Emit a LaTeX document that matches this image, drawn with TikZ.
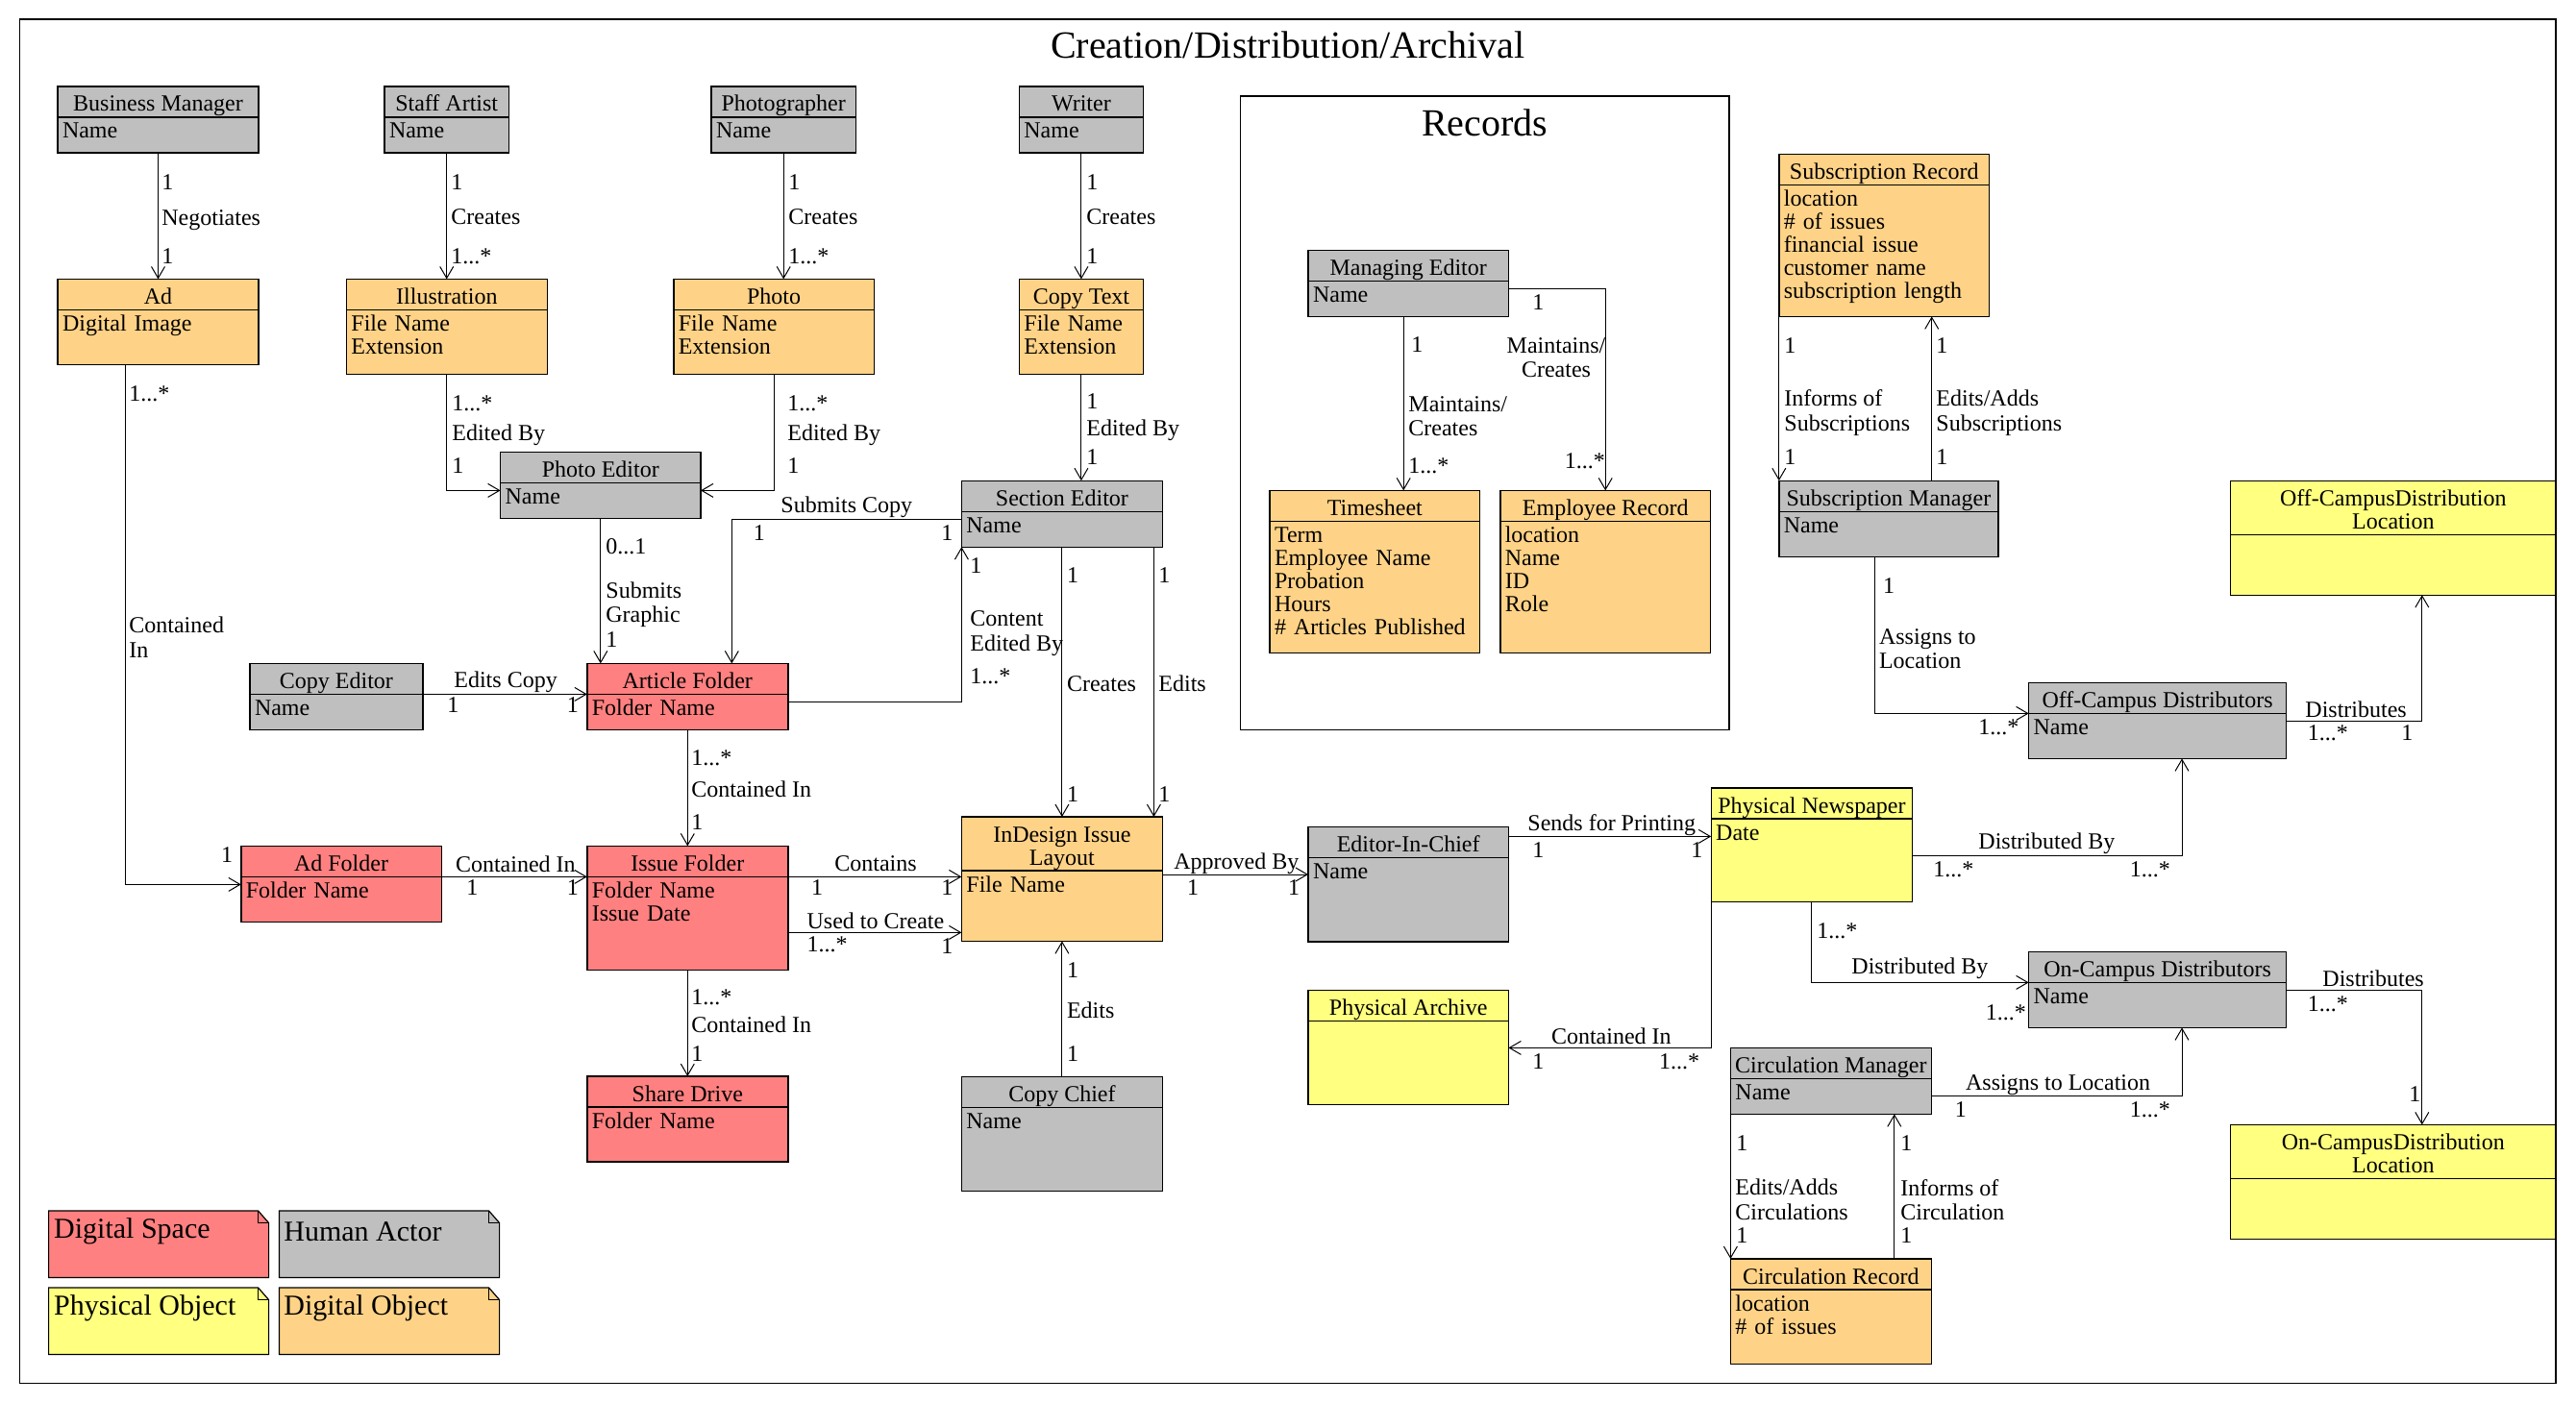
\documentclass[tikz,border=0pt]{standalone}
\usepackage{fontspec}
\setmainfont{Liberation Serif}
\usepackage{tikz}
\usetikzlibrary{arrows.meta,positioning}
\definecolor{gry}{RGB}{191,191,191}
\definecolor{org}{RGB}{255,211,135}
\definecolor{pnk}{RGB}{255,128,128}
\definecolor{yel}{RGB}{255,255,128}

\begin{document}
\begin{tikzpicture}[x=1pt, y=-1pt,
     hd/.style={draw, line width=.7pt, outer sep=0pt, anchor=north west, inner xsep=1pt, inner ysep=0pt, align=center, text height=13pt, text depth=3pt, minimum width=#1, font=\fontsize{12}{12}\selectfont},
     bd/.style={draw, line width=.7pt, outer sep=0pt, inner xsep=2.5pt, inner ysep=0pt, align=left, text height=11pt, text width=#1-5pt, font=\fontsize{12}{12}\selectfont},
     lb/.style={anchor=west, inner sep=0pt, align=left, font=\fontsize{12}{12.8}\selectfont},
     lg/.style={anchor=west, inner sep=0pt, font=\fontsize{15}{15}\selectfont},
     assoc/.style={line width=.5pt, -{Straight Barb[length=6pt,width=7pt]}},
     note/.style={line width=.6pt}]
     \useasboundingbox (0,0) rectangle (1340,730);

     \draw[line width=.6pt] (10.3,10) rectangle (1329.5,719.7);
     \draw[line width=.6pt] (645.3,50) rectangle (899.5,379.7);
     \path (669.9,23.3) node[font=\fontsize{20}{20}\selectfont] (ttl) {Creation/Distribution/Archival};
     \path (772.4,63.8) node[font=\fontsize{20}{20}\selectfont] (rec) {Records};

     \path (30,45) node[hd=104.5pt, fill=gry] (bm) {Business Manager};
     \node[bd=104.5pt, fill=gry, text depth=7.5pt, below=0pt of bm] (bm-b) {Name};
     \path (200,45) node[hd=64.7pt, fill=gry] (sa) {Staff Artist};
     \node[bd=64.7pt, fill=gry, text depth=7.5pt, below=0pt of sa] (sa-b) {Name};
     \path (370,45) node[hd=75.2pt, fill=gry] (pg) {Photographer};
     \node[bd=75.2pt, fill=gry, text depth=7.5pt, below=0pt of pg] (pg-b) {Name};
     \path (530.2,45) node[hd=64.5pt, fill=gry] (wr) {Writer};
     \node[bd=64.5pt, fill=gry, text depth=7.5pt, below=0pt of wr] (wr-b) {Name};

     \path (30,145.2) node[hd=104.5pt, fill=org] (ad) {Ad};
     \node[bd=104.5pt, fill=org, text depth=17.5pt, below=0pt of ad] (ad-b) {Digital Image};
     \path (180.2,145.2) node[hd=104.5pt, fill=org] (il) {Illustration};
     \node[bd=104.5pt, fill=org, text depth=22.5pt, below=0pt of il] (il-b) {File Name\\Extension};
     \path (350.4,145.2) node[hd=104.3pt, fill=org] (pho) {Photo};
     \node[bd=104.3pt, fill=org, text depth=22.5pt, below=0pt of pho] (pho-b) {File Name\\Extension};
     \path (530.2,145.2) node[hd=64.5pt, fill=org] (ct) {Copy Text};
     \node[bd=64.5pt, fill=org, text depth=22.5pt, below=0pt of ct] (ct-b) {File Name\\Extension};

     \path (260.3,235.2) node[hd=104.2pt, fill=gry] (pe) {Photo Editor};
     \node[bd=104.2pt, fill=gry, text depth=7.5pt, below=0pt of pe] (pe-b) {Name};
     \path (500.2,250.1) node[hd=104.5pt, fill=gry] (se) {Section Editor};
     \node[bd=104.5pt, fill=gry, text depth=7.5pt, below=0pt of se] (se-b) {Name};
     \path (680.5,130.2) node[hd=104.2pt, fill=gry] (me) {Managing Editor};
     \node[bd=104.2pt, fill=gry, text depth=7.5pt, below=0pt of me] (me-b) {Name};
     \path (660.5,255.2) node[hd=109.3pt, fill=org] (ts) {Timesheet};
     \node[bd=109.3pt, fill=org, text depth=57.5pt, below=0pt of ts] (ts-b) {Term\\Employee Name\\Probation\\Hours\\\# Articles Published};
     \path (780.4,255.2) node[hd=109.4pt, fill=org] (er) {Employee Record};
     \node[bd=109.4pt, fill=org, text depth=57.5pt, below=0pt of er] (er-b) {location\\Name\\ID\\Role};
     \path (925.4,80.2) node[hd=109.4pt, fill=org] (sr) {Subscription Record};
     \node[bd=109.4pt, fill=org, text depth=57.5pt, below=0pt of sr] (sr-b) {location\\\# of issues\\financial issue\\customer name\\subscription length};
     \path (925.4,250.1) node[hd=114.1pt, fill=gry] (sm) {Subscription Manager};
     \node[bd=114.1pt, fill=gry, text depth=12.5pt, below=0pt of sm] (sm-b) {Name};
     \path (1160.3,250.1) node[hd=169.2pt, fill=yel, text height=25pt] (ocdl) {Off-CampusDistribution\\Location};
     \node[bd=169.2pt, fill=yel, text depth=20.5pt, below=0pt of ocdl] (ocdl-b) {};

     \path (130,345.2) node[hd=89.9pt, fill=gry] (ce) {Copy Editor};
     \node[bd=89.9pt, fill=gry, text depth=7.5pt, below=0pt of ce] (ce-b) {Name};
     \path (305.4,345.2) node[hd=104.5pt, fill=pnk] (af) {Article Folder};
     \node[bd=104.5pt, fill=pnk, text depth=7.5pt, below=0pt of af] (af-b) {Folder Name};
     \path (1055.3,355.2) node[hd=134pt, fill=gry] (ocd) {Off-Campus Distributors};
     \node[bd=134pt, fill=gry, text depth=12.5pt, below=0pt of ocd] (ocd-b) {Name};

     \path (125.4,440.2) node[hd=104.2pt, fill=pnk] (adf) {Ad Folder};
     \node[bd=104.2pt, fill=pnk, text depth=12.5pt, below=0pt of adf] (adf-b) {Folder Name};
     \path (305.4,440.2) node[hd=104.5pt, fill=pnk] (isf) {Issue Folder};
     \node[bd=104.5pt, fill=pnk, text depth=37.5pt, below=0pt of isf] (isf-b) {Folder Name\\Issue Date};
     \path (500.2,425) node[hd=104.5pt, fill=org, text height=25pt] (idl) {InDesign Issue\\Layout};
     \node[bd=104.5pt, fill=org, text depth=25.7pt, below=0pt of idl] (idl-b) {File Name};
     \path (680.5,430.2) node[hd=104.2pt, fill=gry] (eic) {Editor-In-Chief};
     \node[bd=104.2pt, fill=gry, text depth=32.7pt, below=0pt of eic] (eic-b) {Name};
     \path (890.1,410) node[hd=104.7pt, fill=yel] (pn) {Physical Newspaper};
     \node[bd=104.7pt, fill=yel, text depth=32.3pt, below=0pt of pn] (pn-b) {Date};
     \path (1055.3,495.2) node[hd=134pt, fill=gry] (oncd) {On-Campus Distributors};
     \node[bd=134pt, fill=gry, text depth=12.5pt, below=0pt of oncd] (oncd-b) {Name};

     \path (680.5,515.2) node[hd=104.2pt, fill=yel] (pa) {Physical Archive};
     \node[bd=104.2pt, fill=yel, text depth=32.5pt, below=0pt of pa] (pa-b) {};
     \path (305.4,560) node[hd=104.5pt, fill=pnk] (sd) {Share Drive};
     \node[bd=104.5pt, fill=pnk, text depth=17.5pt, below=0pt of sd] (sd-b) {Folder Name};
     \path (500.2,560.2) node[hd=104.5pt, fill=gry] (cc) {Copy Chief};
     \node[bd=104.5pt, fill=gry, text depth=32.5pt, below=0pt of cc] (cc-b) {Name};
     \path (900.2,545.2) node[hd=104.4pt, fill=gry] (cm) {Circulation Manager};
     \node[bd=104.4pt, fill=gry, text depth=7.5pt, below=0pt of cm] (cm-b) {Name};
     \path (1160.3,585.2) node[hd=169.2pt, fill=yel, text height=25pt] (oncdl) {On-CampusDistribution\\Location};
     \node[bd=169.2pt, fill=yel, text depth=20.5pt, below=0pt of oncdl] (oncdl-b) {};
     \path (900.2,655) node[hd=104.4pt, fill=org] (cr) {Circulation Record};
     \node[bd=104.4pt, fill=org, text depth=27.7pt, below=0pt of cr] (cr-b) {location\\\# of issues};

     \draw[assoc] (bm-b.south) -- (ad.north);
     \draw[assoc] (sa-b.south) -- (sa-b.south |- il.north);
     \draw[assoc] (pg-b.south) -- (pg-b.south |- pho.north);
     \draw[assoc] (wr-b.south) -- (ct.north);
     \draw[assoc] (il-b.south) |- ([yshift=-4pt]pe-b.north west);
     \draw[assoc] (pho-b.south) |- ([yshift=-4pt]pe-b.north east);
     \draw[assoc] (ct-b.south) -- (ct-b.south |- se.north);
     \draw[assoc] (pe-b.south) -- (pe-b.south |- af.north);
     \draw[assoc] ([yshift=-4pt]se-b.north west) -| ([xshift=23pt]af.north);
     \draw[assoc] (ce-b.north east) -- (af-b.north west);
     \draw[assoc] ([xshift=-17pt]ad-b.south) |- ([yshift=-4pt]adf-b.north west);
     \draw[assoc] ([yshift=-4pt]af-b.north east) -| (se-b.south west);
     \draw[assoc] (af-b.south) -- (isf.north);
     \draw[assoc] (adf-b.north east) -- (isf-b.north west);
     \draw[assoc] (isf-b.north east) -- (isf-b.north east -| idl-b.west);
     \draw[assoc] ([yshift=-29pt]isf-b.north east) -- ([yshift=-29pt]isf-b.north east -| idl-b.west);
     \draw[assoc] (isf-b.south) -- (sd.north);
     \draw[assoc] (se-b.south) -- (idl.north);
     \draw[assoc] ([xshift=-4.5pt]se-b.south east) -- ([xshift=-4.5pt]idl.north east);
     \draw[assoc] (cc.north) -- (idl-b.south);
     \draw[assoc] ([yshift=-2pt]idl-b.north east) -- ([yshift=-2pt]idl-b.north east -| eic-b.west);
     \draw[assoc] ([yshift=-5pt]eic.north east) -- ([yshift=-5pt]eic.north east -| pn-b.west);
     \draw[assoc] (pn-b.south west) |- ([yshift=-14pt]pa-b.north east);
     \draw[assoc] ([yshift=-19pt]pn-b.north east) -| ([xshift=12.7pt]ocd-b.south);
     \draw[assoc] (pn-b.south) |- (oncd-b.north west);
     \draw[assoc] ([xshift=-7.25pt]sm-b.south) |- (ocd-b.north west);
     \draw[assoc] ([yshift=-4pt]ocd-b.north east) -| ([xshift=15pt]ocdl-b.south);
     \draw[assoc] ([yshift=-4pt]oncd-b.north east) -| ([xshift=15pt]oncdl.north);
     \draw[assoc] (cm-b.east) -| ([xshift=12.7pt]oncd-b.south);
     \draw[assoc] (cm-b.south west) -- (cr.north west);
     \draw[assoc] ([xshift=33pt]cr.north) -- ([xshift=33pt]cr.north |- cm-b.south);
     \draw[assoc] (sr-b.south west) -- (sm.north west);
     \draw[assoc] ([xshift=22.4pt]sm.north) -- ([xshift=22.4pt]sm.north |- sr-b.south);
     \draw[assoc] ([xshift=-2.5pt]me-b.south) -- ([xshift=-2.5pt]me-b.south |- ts.north);
     \draw[assoc] ([yshift=-4pt]me-b.north east) -| (er.north);

     \path (84,95) node[lb] (l1) {1};
     \path (84,114.5) node[lb] (l2) {Negotiates};
     \path (84,133.5) node[lb] (l3) {1};
     \path (234.5,95) node[lb] (l4) {1};
     \path (234.5,113) node[lb] (l5) {Creates};
     \path (234.5,133.5) node[lb] (l6) {1...*};
     \path (410,95) node[lb] (l7) {1};
     \path (410,113) node[lb] (l8) {Creates};
     \path (410,133.5) node[lb] (l9) {1...*};
     \path (565,95) node[lb] (l10) {1};
     \path (565,113) node[lb] (l11) {Creates};
     \path (565,133.5) node[lb] (l12) {1};
     \path (67,205) node[lb] (l13) {1...*};
     \path (67,331.5) node[lb] (l14) {Contained\\In};
     \path (114.8,445) node[lb] (l15) {1};
     \path (235,210) node[lb] (l16) {1...*};
     \path (235,226.5) node[lb] (l17) {Edited By};
     \path (235,242.5) node[lb] (l18) {1};
     \path (409.5,210) node[lb] (l19) {1...*};
     \path (409.5,226.5) node[lb] (l20) {Edited By};
     \path (409.5,242.5) node[lb] (l21) {1};
     \path (565,209) node[lb] (l22) {1};
     \path (565,224) node[lb] (l23) {Edited By};
     \path (565,238) node[lb] (l24) {1};
     \path (315,284.5) node[lb] (l25) {0...1};
     \path (315,314.7) node[lb] (l26) {Submits\\Graphic};
     \path (315,332.8) node[lb] (l27) {1};
     \path (406,264) node[lb] (l28) {Submits Copy};
     \path (391.75,277.3) node[lb] (l29) {1};
     \path (489.5,277.3) node[lb] (l30) {1};
     \path (236,354.8) node[lb] (l31) {Edits Copy};
     \path (232.5,367) node[lb] (l32) {1};
     \path (294.75,367) node[lb] (l33) {1};
     \path (359.5,394.25) node[lb] (l34) {1...*};
     \path (359.5,410.5) node[lb] (l35) {Contained In};
     \path (359.5,428) node[lb] (l36) {1};
     \path (236.8,449.5) node[lb] (l37) {Contained In};
     \path (242.5,461.8) node[lb] (l38) {1};
     \path (294.75,461.8) node[lb] (l39) {1};
     \path (434,449.5) node[lb] (l40) {Contains};
     \path (421.9,462) node[lb] (l41) {1};
     \path (489.5,462) node[lb] (l42) {1};
     \path (419.6,479.35) node[lb] (l43) {Used to Create};
     \path (419.6,491.5) node[lb] (l44) {1...*};
     \path (489.5,492.5) node[lb] (l45) {1};
     \path (359.5,519) node[lb] (l46) {1...*};
     \path (359.5,533.3) node[lb] (l47) {Contained In};
     \path (359.5,548.3) node[lb] (l48) {1};
     \path (554.8,299.5) node[lb] (l49) {1};
     \path (554.8,355.7) node[lb] (l50) {Creates};
     \path (554.8,413.5) node[lb] (l51) {1};
     \path (602.5,299.5) node[lb] (l52) {1};
     \path (602.5,355.7) node[lb] (l53) {Edits};
     \path (602.5,413.5) node[lb] (l54) {1};
     \path (504.5,294.3) node[lb] (l55) {1};
     \path (504.5,329.6) node[lb] (l56) {Content\\Edited By};
     \path (504.5,351.7) node[lb] (l57) {1...*};
     \path (554.8,505) node[lb] (l58) {1};
     \path (554.8,525.8) node[lb] (l59) {Edits};
     \path (554.8,548.3) node[lb] (l60) {1};
     \path (610.5,449.5) node[lb] (l61) {Approved By};
     \path (617.4,462) node[lb] (l62) {1};
     \path (669.8,462) node[lb] (l63) {1};
     \path (794.5,429.3) node[lb] (l64) {Sends for Printing};
     \path (797,442.5) node[lb] (l65) {1};
     \path (879.5,442.5) node[lb] (l66) {1};
     \path (806.8,539.2) node[lb] (l67) {Contained In};
     \path (797,552.5) node[lb] (l68) {1};
     \path (862.85,552.5) node[lb] (l69) {1...*};
     \path (1029,439) node[lb] (l70) {Distributed By};
     \path (1005.5,452.2) node[lb] (l71) {1...*};
     \path (1107.75,452.2) node[lb] (l72) {1...*};
     \path (945,484.25) node[lb] (l73) {1...*};
     \path (963,503.7) node[lb] (l74) {Distributed By};
     \path (1032.75,526.7) node[lb] (l75) {1...*};
     \path (979.3,304.8) node[lb] (l76) {1};
     \path (977.3,337.5) node[lb] (l77) {Assigns to\\Location};
     \path (1029,378.5) node[lb] (l78) {1...*};
     \path (1199,369.2) node[lb] (l79) {Distributes};
     \path (1200.25,381.5) node[lb] (l80) {1...*};
     \path (1249,381.5) node[lb] (l81) {1};
     \path (1208,509.2) node[lb] (l82) {Distributes};
     \path (1200.25,522.2) node[lb] (l83) {1...*};
     \path (1253,569.2) node[lb] (l84) {1};
     \path (1022.35,564.5) node[lb] (l85) {Assigns to Location};
     \path (1016.75,577.2) node[lb] (l86) {1};
     \path (1107.75,577.2) node[lb] (l87) {1...*};
     \path (903,594.65) node[lb] (l88) {1};
     \path (902.5,624.25) node[lb] (l89) {Edits/Adds\\Circulations};
     \path (903,643) node[lb] (l90) {1};
     \path (988.5,594.65) node[lb] (l91) {1};
     \path (988.5,624.25) node[lb] (l92) {Informs of\\Circulation};
     \path (988.5,643) node[lb] (l93) {1};
     \path (928,179.7) node[lb] (l94) {1};
     \path (928,214.8) node[lb] (l95) {Informs of\\Subscriptions};
     \path (928,238) node[lb] (l96) {1};
     \path (1007,179.7) node[lb] (l97) {1};
     \path (1007,214.8) node[lb] (l98) {Edits/Adds\\Subscriptions};
     \path (1007,238) node[lb] (l99) {1};
     \path (734,179.5) node[lb] (l100) {1};
     \path (732.5,216.6) node[lb] (l101) {Maintains/\\Creates};
     \path (732.5,242.5) node[lb] (l102) {1...*};
     \path (809.5,186) node[lb, anchor=center, align=center] (l103) {Maintains/\\Creates};
     \path (797,157.5) node[lb] (l104) {1};
     \path (813.75,240) node[lb] (l105) {1...*};

     \filldraw[note, fill=pnk] (25.3,630) -- (134.3,630) -- (139.8,636.3) -- (139.8,664.7) -- (25.3,664.7) -- cycle;
     \draw[note] (134.3,630) -- (134.3,636.3) -- (139.8,636.3);
     \path (27.9,640.8) node[lg] (lg-ds) {Digital Space};
     \filldraw[note, fill=gry] (145.2,630) -- (254.3,630) -- (259.8,636.3) -- (259.8,664.7) -- (145.2,664.7) -- cycle;
     \draw[note] (254.3,630) -- (254.3,636.3) -- (259.8,636.3);
     \path (147.5,640.8) node[lg] (lg-ha) {Human Actor};
     \filldraw[note, fill=yel] (25.3,670) -- (134.3,670) -- (139.8,676.3) -- (139.8,704.7) -- (25.3,704.7) -- cycle;
     \draw[note] (134.3,670) -- (134.3,676.3) -- (139.8,676.3);
     \path (27.9,680.8) node[lg] (lg-po) {Physical Object};
     \filldraw[note, fill=org] (145.2,670) -- (254.3,670) -- (259.8,676.3) -- (259.8,704.7) -- (145.2,704.7) -- cycle;
     \draw[note] (254.3,670) -- (254.3,676.3) -- (259.8,676.3);
     \path (147.5,680.8) node[lg] (lg-do) {Digital Object};

\end{tikzpicture}
\end{document}
